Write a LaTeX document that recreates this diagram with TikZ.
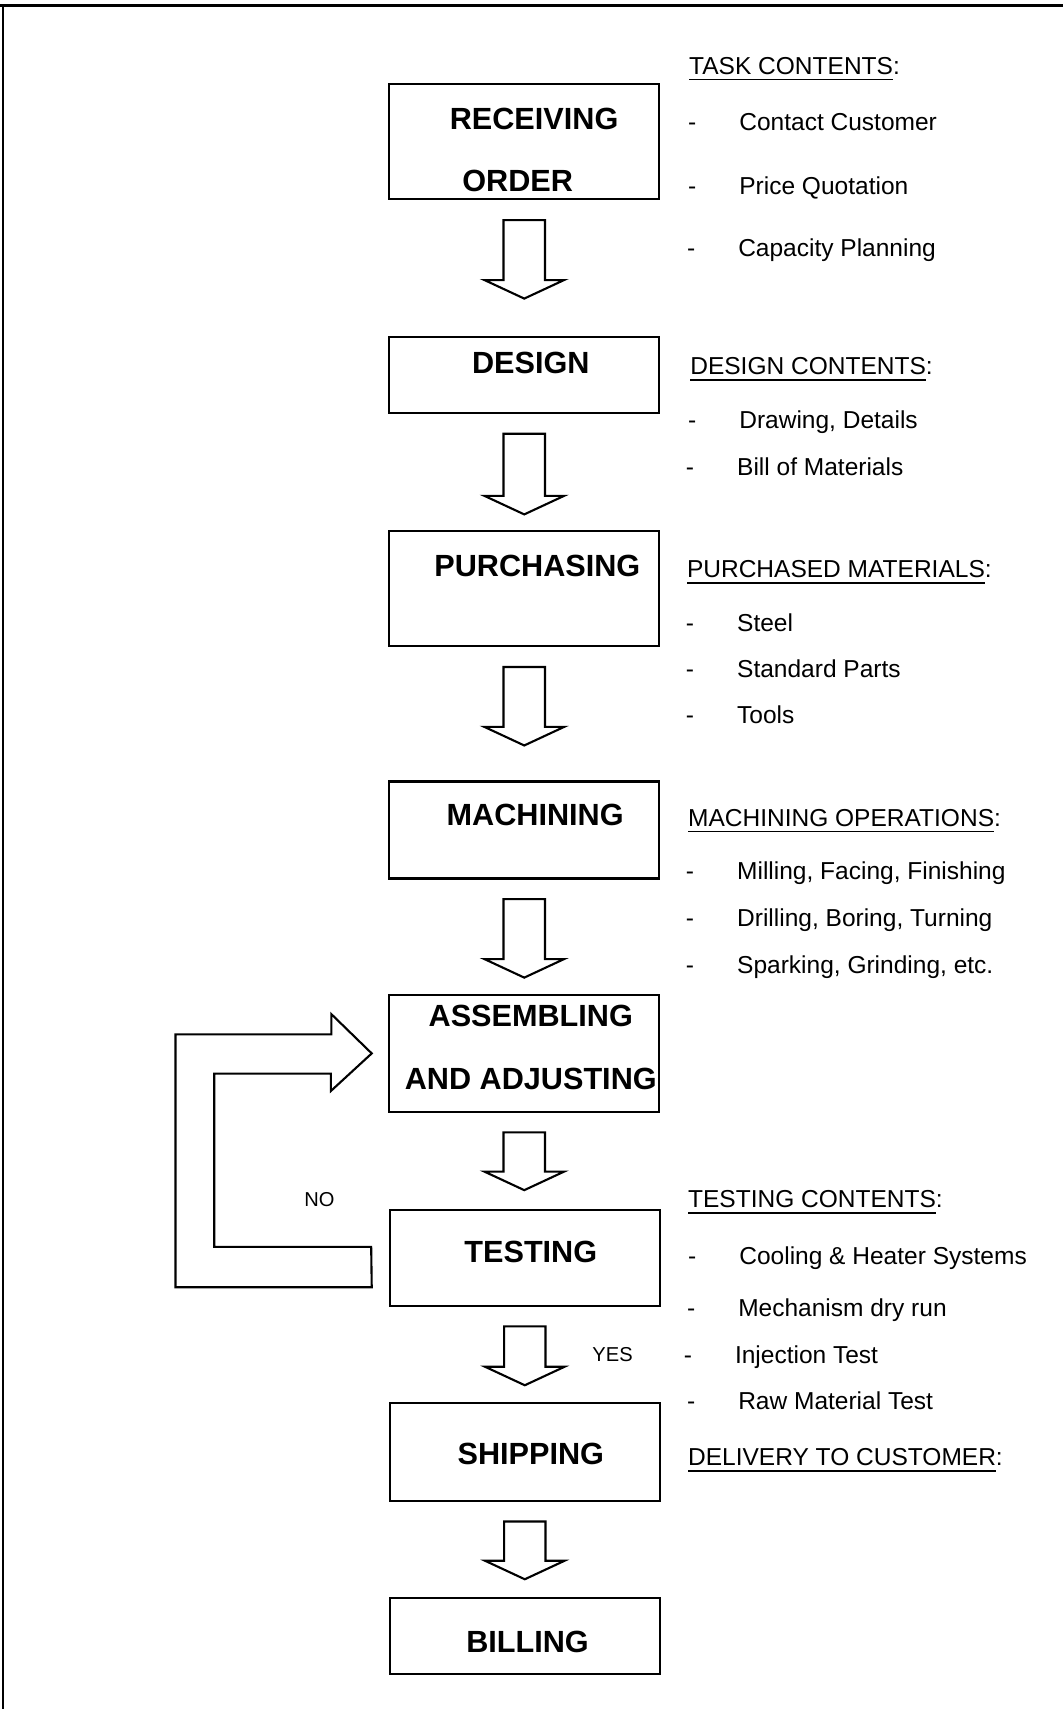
\documentclass[tikz,border=0pt]{standalone}
\usepackage{fontspec}
\setmainfont{Liberation Sans}
\usetikzlibrary{calc}

\tikzset{
  stage/.style={draw, line width=1.1pt, minimum width=4.96cm, inner sep=0pt},
  stagetxt/.style={font=\fontsize{16}{19}\selectfont\bfseries, anchor=base, inner sep=0pt},
  info/.style={font=\fontsize{12.8}{15}\selectfont, anchor=base west, inner sep=0pt},
  small/.style={font=\fontsize{10.5}{12}\selectfont, anchor=base, inner sep=0pt},
  blockarrow/.style={draw, line width=1.1pt, line join=miter}
}

% underlined heading word(s)
\newcommand{\hdline}[1]{\setbox0\hbox{#1}\rlap{\rule[-3.2pt]{\wd0}{0.9pt}}\box0}

% hollow arrow hanging under box #1, #2 = its length
\newcommand{\flowarrow}[2]{%
  \begin{scope}[shift={($(#1.south)+(0,18)$)}]
    \draw[blockarrow] (-19,0) -- (19,0) -- (19,#2-17) -- (36.5,#2-17) -- (0,#2)
      -- (-36.5,#2-17) -- (-19,#2-17) -- cycle;
  \end{scope}}

\begin{document}
\begin{tikzpicture}[x=0.02cm, y=-0.02cm]
    \useasboundingbox (0,0) rectangle (975,1568);
    % frame
    \draw[line width=1.2pt] (0,5) -- (975,5);
    \draw[line width=1.2pt] (3,5) -- (3,1568);

    % stages
    \node[stage, minimum height=2.12cm] (rec) at (481,130) {};
    \node[stage, minimum height=1.40cm] (des) at (481,344) {};
    \node[stage, minimum height=2.12cm] (pur) at (481,540) {};
    \node[stage, minimum height=1.78cm] (mac) at (481,761.5) {};
    \node[stage, minimum height=2.14cm] (asm) at (481,966.5) {};
    \node[stage, minimum height=1.76cm] (tst) at (481.5,1154) {};
    \node[stage, minimum height=1.80cm] (shp) at (481.5,1332) {};
    \node[stage, minimum height=1.40cm] (bil) at (481.5,1501) {};

    \node[stagetxt] (recA) at (490,119) {RECEIVING};
    \node[stagetxt] (recB) at (475,176) {ORDER};
    \node[stagetxt] (desA) at (487,343) {DESIGN};
    \node[stagetxt] (purA) at (493,529) {PURCHASING};
    \node[stagetxt] (macA) at (491,757) {MACHINING};
    \node[stagetxt] (asmA) at (487,942) {ASSEMBLING};
    \node[stagetxt] (asmB) at (487,1000) {AND ADJUSTING};
    \node[stagetxt] (tstA) at (487,1158) {TESTING};
    \node[stagetxt] (shpA) at (487,1344) {SHIPPING};
    \node[stagetxt] (bilA) at (484,1516) {BILLING};

    % arrows between stages
    \flowarrow{rec}{72}
    \flowarrow{des}{74}
    \flowarrow{pur}{72}
    \flowarrow{mac}{72}
    \flowarrow{asm}{53}
    \flowarrow{tst}{54}
    \flowarrow{shp}{53}

    % back from testing to assembling
    \coordinate (nt) at ($(asm.west)+(-15,0)$);
    \coordinate (ne) at ($(tst.west)+(-16,0)$);
    \draw[blockarrow] ($(ne)+(0,-10)$) -- ++(-144,0) -- ++(0,-159) -- ++(107,0) -- ++(0,16)
      -- (nt) -- ++(-37,-36) -- ++(0,18.5) -- ++(-143,0) -- ++(0,232) -- ++(180,0) -- cycle;
    \node[small] (no) at (293,1106.5) {NO};
    \node[small] (yes) at (562,1249.5) {YES};

    % headings on the right
    \node[info] (hd1) at (632,68) {\hdline{TASK CONTENTS}:};
    \node[info] (hd2) at (633,344) {\hdline{DESIGN CONTENTS}:};
    \node[info] (hd3) at (630,530) {\hdline{PURCHASED MATERIALS}:};
    \node[info] (hd4) at (631,758) {\hdline{MACHINING OPERATIONS}:};
    \node[info] (hd5) at (631,1108) {\hdline{TESTING CONTENTS}:};
    \node[info] (hd6) at (631,1345) {\hdline{DELIVERY TO CUSTOMER}:};

    % items
    \foreach \xx/\txt/\yy [count=\i] in {678/Contact Customer/120, 678/Price Quotation/178,
        677/Capacity Planning/235, 678/{Drawing, Details}/393, 676/Bill of Materials/436,
        676/Steel/579, 676/Standard Parts/622, 676/Tools/664,
        676/{Milling, Facing, Finishing}/807, 676/{Drilling, Boring, Turning}/850,
        676/{Sparking, Grinding, etc.}/893, 678/Cooling \& Heater Systems/1160,
        677/Mechanism dry run/1208, 674/Injection Test/1251, 677/Raw Material Test/1293}
    {
      \node[info] (dash\i) at (\xx-47,\yy) {-};
      \node[info] (item\i) at (\xx,\yy) {\txt};
    }
\end{tikzpicture}
\end{document}
